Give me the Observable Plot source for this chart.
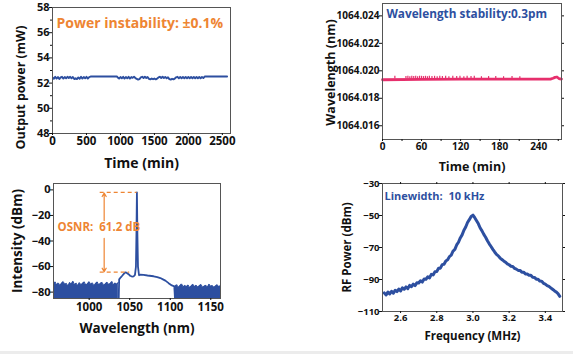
<!DOCTYPE html>
<html><head><meta charset="utf-8">
<script src="https://cdn.jsdelivr.net/npm/d3@7"></script>
<script src="https://cdn.jsdelivr.net/npm/@observablehq/plot@0.6"></script>
<style>
body{margin:0;background:#fff}
#wrap{position:relative;width:573px;height:354px;background:#fff;overflow:hidden}
#wrap svg{position:absolute;overflow:visible}
#bar{position:absolute;left:0;top:351px;width:573px;height:3px;background:#ececec}
</style></head><body><div id="wrap"><div id="bar"></div></div>
<script>
// ---------- data ----------
// Panel a: output power vs time
const powerTime = [0,20,40,60,80,100,120,140,160,180,200,220,240,260,280,300,320,340,360,380,400,420,440,460,480,500,520,540,560,950,960,980,1000,1020,1040,1060,1080,1100,1120,1140,1160,1180,1200,1220,1240,1260,1280,1300,1320,1340,1360,1380,1400,1420,1440,1460,1480,1500,1520,1540,1560,1580,1600,1620,1640,1660,1680,1700,1720,1740,1760,1780,1800,1820,1840,1860,1880,1900,1920,1940,1960,1980,2000,2020,2040,2060,2080,2100,2120,2140,2160,2180,2200,2220,2240,2570];
const powerValue = [52.45,52.34,52.5,52.36,52.48,52.32,52.45,52.5,52.36,52.48,52.38,52.5,52.4,52.5,52.38,52.48,52.32,52.38,52.32,52.45,52.34,52.5,52.36,52.48,52.38,52.5,52.36,52.48,52.52,52.52,52.45,52.36,52.48,52.38,52.5,52.36,52.48,52.38,52.5,52.36,52.48,52.42,52.5,52.4,52.34,52.28,52.32,52.45,52.5,52.4,52.5,52.4,52.48,52.34,52.3,52.36,52.31,52.36,52.3,52.36,52.45,52.5,52.4,52.5,52.4,52.48,52.38,52.46,52.32,52.28,52.34,52.3,52.36,52.46,52.5,52.38,52.48,52.38,52.48,52.38,52.48,52.38,52.48,52.38,52.48,52.38,52.48,52.38,52.48,52.38,52.48,52.38,52.48,52.4,52.52,52.52];
const powerTicks = [48,50,52,54,56,58];
const powerMinor = [49,51,53,55,57];
const powerTimeTicks = [0,500,1000,1500,2000,2500];
const powerNote = "Power instability: ±0.1%";

// Panel b: wavelength vs time
const wlTime = [0,60,120,180,240,258,262,265,268,271,275];
const wlValue = [1064.01935,1064.01937,1064.0194,1064.0194,1064.0194,1064.0194,1064.01946,1064.01952,1064.01955,1064.01944,1064.0194];
const wlSpikeTime = [19,36,39,42,45,48,51,54,57,60,63,66,69,72,76,80,84,88,92,97,102,108,114,119,125,130,136,141,152,163,174,186,199,211];
const wlSpikeTop = [1064.0196,1064.01958,1064.0196,1064.01957,1064.0196,1064.01958,1064.0196,1064.01957,1064.0196,1064.0196,1064.01958,1064.0196,1064.01957,1064.0196,1064.01958,1064.0196,1064.01957,1064.0196,1064.01958,1064.0196,1064.01957,1064.0196,1064.01958,1064.0196,1064.01957,1064.0196,1064.01958,1064.0196,1064.01957,1064.01958,1064.01958,1064.01957,1064.01958,1064.01957];
const wlBase = 1064.0194;
const wlTicks = [1064.016,1064.018,1064.020,1064.022,1064.024];
const wlTimeTicks = [0,60,120,180,240];
const wlTimeMinor = [30,90,150,210,270];
const wlNote = "Wavelength stability:0.3pm";

// Panel c: optical spectrum
const noiseLeftWl = [956,958,960,962,964,966,968,970,972,974,976,978,980,982,984,986,988,990,992,994,996,998,1000,1002,1004,1006,1008,1010,1012,1014,1016,1018,1020,1022,1024,1026,1028,1030,1032,1034,1036];
const noiseLeftDb = [-73.5,-72,-74.5,-72.8,-75,-73,-71.8,-74,-73.2,-75.5,-72.5,-73.8,-71.5,-74.2,-73,-75,-72.6,-74.4,-73.1,-72,-74.8,-73.5,-71.9,-74,-72.8,-75.2,-73.3,-72.1,-74.6,-73,-72.4,-74.9,-73.6,-72.2,-74.1,-73.4,-71.7,-74.5,-72.9,-73.8,-72.5];
const bandWl = [1036.3,1037,1039,1041,1043,1044.5,1046,1048.6,1050.5,1052.7,1055,1056.5,1057.7,1058.3,1058.9,1059.5,1060.2,1061.5,1063,1067,1072,1079.5,1084,1087.8,1091,1094,1098,1102,1105,1106.3];
const bandDb = [-90,-70,-68.4,-67,-65.5,-64.6,-64.8,-66,-67.2,-67.8,-67.6,-66.5,-60,-35,-2,-35,-60,-66.8,-66.4,-66.5,-67,-67.6,-68.2,-69,-70,-71,-73,-74.8,-75.5,-90];
const noiseRightWl = [1106,1108,1110,1112,1114,1116,1118,1120,1122,1124,1126,1128,1130,1132,1134,1136,1138,1140,1142,1144,1146,1148,1150,1152,1154,1156,1158,1160,1162];
const noiseRightDb = [-75.5,-74.2,-76.4,-75,-73.6,-76,-74.8,-75.8,-74.4,-76.5,-75.2,-73.9,-75.9,-74.6,-76.2,-75.1,-74,-76.3,-75.4,-74.7,-76.1,-73.8,-75.6,-74.9,-76.4,-75.3,-74.3,-75.8,-75];
const specFloor = -90;
const specTicks = [0,-20,-40,-60,-80];
const specWlTicks = [1000,1050,1100,1150];
const osnrDashWlStart = [1013.6,1013.6];
const osnrDashWlEnd = [1059,1050];
const osnrDashDb = [-2,-64.4];
const osnrArrowWl = [1018.5,1018.5];
const osnrArrowFrom = [-24,-38];
const osnrArrowTo = [-2.5,-64];
const osnrNote = "OSNR:\u00a0 61.2 dB";

// Panel d: RF beat spectrum
const rfFreq = [2.51,2.52,2.53,2.54,2.55,2.56,2.57,2.58,2.59,2.60,2.61,2.62,2.63,2.64,2.65,2.66,2.67,2.68,2.69,2.70,2.71,2.72,2.73,2.74,2.75,2.76,2.77,2.78,2.79,2.80,2.81,2.82,2.83,2.84,2.85,2.86,2.87,2.88,2.89,2.90,2.91,2.92,2.93,2.94,2.95,2.96,2.97,2.98,2.99,3.00,3.01,3.02,3.03,3.04,3.05,3.06,3.07,3.08,3.09,3.10,3.11,3.12,3.13,3.14,3.15,3.16,3.17,3.18,3.19,3.20,3.21,3.22,3.23,3.24,3.25,3.26,3.27,3.28,3.29,3.30,3.31,3.32,3.33,3.34,3.35,3.36,3.37,3.38,3.39,3.40,3.41,3.42,3.43,3.44,3.45,3.46,3.47,3.48];
const rfPower = [-98.4,-99.6,-97.8,-99.0,-97.4,-98.5,-96.7,-97.6,-96.0,-97.1,-95.2,-96.1,-94.6,-95.7,-93.7,-94.5,-92.9,-93.8,-92.0,-92.2,-90.8,-91.6,-89.7,-89.9,-88.3,-89.0,-86.8,-87.1,-85.2,-85.0,-83.0,-82.9,-80.7,-80.5,-78.4,-77.7,-75.7,-74.8,-72.2,-71.2,-68.4,-66.7,-64.0,-62.1,-59.2,-57.2,-54.4,-52.6,-50.6,-49.8,-51.4,-53.3,-55.2,-57.8,-59.6,-61.8,-63.6,-65.8,-67.7,-69.4,-71.2,-72.8,-74.3,-75.2,-76.6,-77.5,-78.4,-79.2,-80.2,-80.8,-81.7,-81.9,-83.0,-83.5,-84.3,-84.3,-85.4,-85.4,-86.5,-86.6,-87.4,-87.3,-88.6,-88.7,-89.8,-89.8,-91.0,-91.1,-92.4,-92.9,-93.8,-94.3,-95.2,-96.1,-97.0,-97.8,-98.8,-100.5];
const rfTicks = [-30,-50,-70,-90,-110];
const rfFreqTicks = [2.6,2.8,3.0,3.2,3.4];
const rfNote = "Linewidth:\u00a0 10 kHz";

// ---------- style ----------
const blue = "#2D4FA0", orange = "#EE8533", pink = "#E62F6C", frameColor = "#555";
const font = "'Open Sans', 'DejaVu Sans', sans-serif";
const wrap = document.getElementById("wrap");
function place(svg, left, top) {
  svg.style.left = left + "px"; svg.style.top = top + "px";
  wrap.appendChild(svg);
}
const baseStyle = {fontFamily: font, fontWeight: "bold", color: "#111", background: "transparent", overflow: "visible"};
const titleOpts = {fontWeight: "bold", fill: "#111", lineAnchor: "middle", textAnchor: "middle"};
const intFmt = d3.format("d");

// Panel a
place(Plot.plot({
  width: 290, height: 175, marginLeft: 52, marginRight: 60, marginTop: 7, marginBottom: 42,
  style: baseStyle,
  x: {domain: [0, 2620]}, y: {domain: [48, 58]},
  marks: [
    Plot.line(powerValue, {x: powerTime, y: powerValue, stroke: blue, strokeWidth: 1.9, clip: true}),
    Plot.frame({stroke: frameColor}),
    Plot.axisY(powerTicks, {tickSize: 3, tickPadding: 0, fontSize: 11, label: null}),
    Plot.axisY(powerMinor, {tickSize: 2, text: null, label: null}),
    Plot.axisX(powerTimeTicks, {tickSize: 2, tickPadding: 1, fontSize: 11.5, tickFormat: intFmt, label: null}),
    Plot.text([powerNote], {x: 60, y: 56.75, text: d => d, textAnchor: "start", fill: orange, fontSize: 14, fontWeight: "bold"}),
    Plot.text(["Output power (mW)"], {...titleOpts, frameAnchor: "left", rotate: -90, dx: -32, dy: 17, fontSize: 12.5}),
    Plot.text(["Time (min)"], {...titleOpts, frameAnchor: "bottom", dy: 30, fontSize: 14})
  ]
}), 0, 0);

// Panel b
place(Plot.plot({
  width: 283, height: 175, marginLeft: 92, marginRight: 12, marginTop: 3, marginBottom: 36,
  style: baseStyle,
  x: {domain: [0, 275]}, y: {domain: [1064.015, 1064.0249]},
  marks: [
    Plot.ruleX(wlSpikeTime, {x: wlSpikeTime, y1: () => wlBase, y2: wlSpikeTop, stroke: pink, strokeWidth: 1.2}),
    Plot.line(wlValue, {x: wlTime, y: wlValue, stroke: pink, strokeWidth: 2.8}),
    Plot.frame({stroke: frameColor}),
    Plot.axisY(wlTicks, {tickSize: 3, tickPadding: 0, fontSize: 10, tickFormat: d3.format(".3f"), label: null}),
    Plot.axisY(wlTicks, {anchor: "right", tickSize: 2, text: null, label: null}),
    Plot.axisX(wlTimeTicks, {tickSize: 2, tickPadding: 1, fontSize: 10, label: null}),
    Plot.axisX(wlTimeMinor, {tickSize: 2, text: null, label: null}),
    Plot.text([wlNote], {x: 6, y: 1064.02412, text: d => d, textAnchor: "start", fill: blue, fontSize: 11.8, fontWeight: "bold"}),
    Plot.text(["Wavelength (nm)"], {...titleOpts, frameAnchor: "left", rotate: -90, dx: -52, dy: 1, fontSize: 12.5}),
    Plot.text(["Time (min)"], {...titleOpts, frameAnchor: "bottom", dy: 27, fontSize: 12.5})
  ]
}), 290, 0);

// Panel c
place(Plot.plot({
  width: 290, height: 179, marginLeft: 53, marginRight: 70, marginTop: 8, marginBottom: 56,
  style: baseStyle,
  x: {domain: [956, 1162]}, y: {domain: [-85, 5]},
  marks: [
    Plot.areaY(noiseLeftDb, {x: noiseLeftWl, y1: () => specFloor, y2: noiseLeftDb, fill: blue, clip: true}),
    Plot.line(noiseLeftDb, {x: noiseLeftWl, y: noiseLeftDb, stroke: blue, strokeWidth: 1, clip: true}),
    Plot.areaY(noiseRightDb, {x: noiseRightWl, y1: () => specFloor, y2: noiseRightDb, fill: blue, clip: true}),
    Plot.line(noiseRightDb, {x: noiseRightWl, y: noiseRightDb, stroke: blue, strokeWidth: 1, clip: true}),
    Plot.line(bandDb, {x: bandWl, y: bandDb, stroke: blue, strokeWidth: 1.8, clip: true}),
    Plot.ruleY(osnrDashDb, {x1: osnrDashWlStart, x2: osnrDashWlEnd, y: osnrDashDb, stroke: orange, strokeWidth: 1.2, strokeDasharray: "4,3"}),
    Plot.arrow(osnrArrowWl, {x1: osnrArrowWl, x2: osnrArrowWl, y1: osnrArrowFrom, y2: osnrArrowTo, stroke: orange, strokeWidth: 1.2, headLength: 5}),
    Plot.frame({stroke: frameColor}),
    Plot.axisY(specTicks, {tickSize: 3, tickPadding: 0, fontSize: 11, label: null}),
    Plot.axisX(specWlTicks, {tickSize: 2, tickPadding: 2, fontSize: 11.5, tickFormat: intFmt, label: null}),
    Plot.text([osnrNote], {x: 961, y: -29.4, text: d => d, textAnchor: "start", fill: orange, fontSize: 11.5, fontWeight: "bold"}),
    Plot.text(["Intensity (dBm)"], {...titleOpts, frameAnchor: "left", rotate: -90, dx: -36, dy: 0, fontSize: 13.5}),
    Plot.text(["Wavelength (nm)"], {...titleOpts, frameAnchor: "bottom", dy: 30, fontSize: 13.5})
  ]
}), 0, 175);

// Panel d
place(Plot.plot({
  width: 283, height: 179, marginLeft: 92, marginRight: 11, marginTop: 8, marginBottom: 43,
  style: baseStyle,
  x: {domain: [2.5, 3.495]}, y: {domain: [-110, -30]},
  marks: [
    Plot.line(rfPower, {x: rfFreq, y: rfPower, stroke: blue, strokeWidth: 3, clip: true}),
    Plot.frame({stroke: frameColor}),
    Plot.axisY(rfTicks, {tickSize: 3, tickPadding: 0, fontSize: 9.5, label: null}),
    Plot.axisY(rfTicks, {anchor: "right", tickSize: 2, text: null, label: null}),
    Plot.axisX(rfFreqTicks, {tickSize: 2, tickPadding: 1, fontSize: 9.5, tickFormat: d3.format(".1f"), label: null}),
    Plot.axisX(rfFreqTicks, {anchor: "top", tickSize: 2, text: null, label: null}),
    Plot.text([rfNote], {x: 2.511, y: -38, text: d => d, textAnchor: "start", fill: blue, fontSize: 11, fontWeight: "bold"}),
    Plot.text(["RF Power (dBm)"], {...titleOpts, frameAnchor: "left", rotate: -90, dx: -35, dy: 0, fontSize: 11.5}),
    Plot.text(["Frequency (MHz)"], {...titleOpts, frameAnchor: "bottom", dy: 25, fontSize: 11.5})
  ]
}), 290, 175);
</script></body></html>
